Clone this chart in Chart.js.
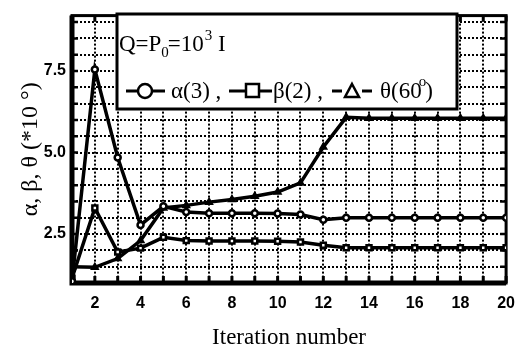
<!DOCTYPE html>
<html>
<head>
<meta charset="utf-8">
<script src="https://cdn.jsdelivr.net/npm/chart.js@4.4.0/dist/chart.umd.min.js"></script>
<style>
  html, body { margin: 0; padding: 0; background: #fff; }
</style>
</head>
<body>
<canvas id="iterChart" width="526" height="356"></canvas>
<script>
// values (units of 10 degrees / scaled)
var iterations = [1, 2, 3, 4, 5, 6, 7, 8, 9, 10, 11, 12, 13, 14, 15, 16, 17, 18, 19, 20];
var alpha = [1.05, 7.55, 4.85, 2.78, 3.35, 3.18, 3.14, 3.14, 3.14, 3.13, 3.1, 2.94, 3.0, 3.0, 3.0, 3.0, 3.0, 3.0, 3.0, 3.0];
var beta  = [1.15, 3.3, 1.95, 2.07, 2.4, 2.3, 2.29, 2.29, 2.29, 2.28, 2.26, 2.16, 2.08, 2.08, 2.08, 2.08, 2.08, 2.08, 2.08, 2.08];
var theta = [1.5, 1.48, 1.75, 2.3, 3.3, 3.38, 3.48, 3.56, 3.66, 3.79, 4.07, 5.17, 6.08, 6.05, 6.05, 6.05, 6.05, 6.05, 6.05, 6.05];
var xLabels = [2, 4, 6, 8, 10, 12, 14, 16, 18, 20];
var yLabels = [2.5, 5.0, 7.5];

function points(ys) {
    return iterations.map(function (x, i) { return {x: x, y: ys[i]}; });
}

var serif = '"Liberation Serif", "Times New Roman", serif';

/**
 * Frame, inner tick marks and the boxed legend of the original figure
 */
var paperPlugin = {
    id: 'paper',
    beforeDatasetsDraw: function (chart) {
        var ctx = chart.ctx, a = chart.chartArea;
        var xs = chart.scales.x, ys = chart.scales.y;
        ctx.save();
        ctx.strokeStyle = '#000';
        ctx.fillStyle = '#000';

        // inner ticks
        ctx.lineWidth = 3;
        xs.ticks.forEach(function (t) {
            var px = xs.getPixelForValue(t.value);
            ctx.beginPath();
            ctx.moveTo(px, a.bottom); ctx.lineTo(px, a.bottom - 7);
            ctx.moveTo(px, a.top); ctx.lineTo(px, a.top + 6);
            ctx.stroke();
        });
        ctx.lineWidth = 2.5;
        ys.ticks.forEach(function (t) {
            var py = ys.getPixelForValue(t.value);
            ctx.beginPath();
            ctx.moveTo(a.left, py); ctx.lineTo(a.left + 6, py);
            ctx.moveTo(a.right, py); ctx.lineTo(a.right - 6, py);
            ctx.stroke();
        });

        // frame
        ctx.lineWidth = 3;
        ctx.strokeRect(a.left, a.top, a.right - a.left, a.bottom - a.top);
        ctx.lineWidth = 5;
        ctx.beginPath();
        ctx.moveTo(a.left, a.top); ctx.lineTo(a.left, a.bottom); ctx.lineTo(a.right, a.bottom);
        ctx.stroke();

        // legend box
        ctx.fillStyle = '#fff';
        ctx.fillRect(117, 14, 340, 95);
        ctx.lineWidth = 3;
        ctx.strokeRect(117, 14, 340, 95);
        ctx.fillStyle = '#000';

        // line 1: Q=P0=10^3 I
        ctx.textBaseline = 'alphabetic';
        ctx.textAlign = 'left';
        var x = 119, y = 51;
        ctx.font = '23px ' + serif;
        ctx.fillText('Q=P', x, y); x += ctx.measureText('Q=P').width;
        ctx.font = '15px ' + serif;
        ctx.fillText('0', x, y + 6); x += ctx.measureText('0').width - 1;
        ctx.font = '23px ' + serif;
        ctx.fillText('=10', x, y); x += ctx.measureText('=10').width + 1;
        ctx.font = '15px ' + serif;
        ctx.fillText('3', x, y - 11); x += ctx.measureText('3').width;
        ctx.font = '23px ' + serif;
        ctx.fillText(' I', x, y);

        // line 2: series keys
        var my = 91, ty = 98;
        function seg(x0, x1) {
            ctx.lineWidth = 3;
            ctx.beginPath(); ctx.moveTo(x0, my); ctx.lineTo(x1, my); ctx.stroke();
        }
        seg(126, 165);
        ctx.beginPath(); ctx.arc(145, my, 7, 0, Math.PI * 2);
        ctx.fillStyle = '#fff'; ctx.fill(); ctx.lineWidth = 2.5; ctx.stroke();
        ctx.fillStyle = '#000';
        ctx.font = '23px ' + serif;
        ctx.fillText('\u03b1(3) ,', 171, ty);

        seg(229, 272);
        ctx.fillStyle = '#fff';
        ctx.fillRect(246, my - 7, 13, 13);
        ctx.lineWidth = 2.5; ctx.strokeRect(246, my - 7, 13, 13);
        ctx.fillStyle = '#000';
        ctx.fillText('\u03b2(2) ,', 273, ty);

        seg(332, 342); seg(362, 372);
        ctx.beginPath();
        ctx.moveTo(352, my - 7); ctx.lineTo(359, my + 6); ctx.lineTo(345, my + 6); ctx.closePath();
        ctx.lineWidth = 2.5; ctx.stroke();
        x = 380;
        ctx.fillText('\u03b8(60', x, ty); x += ctx.measureText('\u03b8(60').width - 3;
        ctx.font = '15px ' + serif;
        ctx.fillText('o', x, ty - 12); x += ctx.measureText('o').width - 1;
        ctx.font = '23px ' + serif;
        ctx.fillText(')', x, ty);
        ctx.restore();
    }
};

var lineData = {
    datasets: [
        {
            label: '\u03b1(3)',
            data: points(alpha),
            borderColor: '#000',
            borderWidth: 3.5,
            pointStyle: 'circle',
            pointRadius: 3,
            pointBorderWidth: 2.5,
            pointBackgroundColor: '#fff',
            pointBorderColor: '#000'
        },
        {
            label: '\u03b2(2)',
            data: points(beta),
            borderColor: '#000',
            borderWidth: 3.5,
            pointStyle: 'rect',
            pointRadius: 3.5,
            pointBorderWidth: 2.5,
            pointBackgroundColor: '#fff',
            pointBorderColor: '#000'
        },
        {
            label: '\u03b8(60\u00b0)',
            data: points(theta),
            borderColor: '#000',
            borderWidth: 3.5,
            pointStyle: 'triangle',
            pointRadius: 3.5,
            pointBorderWidth: 2,
            pointBackgroundColor: '#000',
            pointBorderColor: '#000'
        }
    ]
};

var lineOptions = {
    responsive: false,
    animation: false,
    layout: { padding: { left: 0, right: 18, top: 10, bottom: 0 } },
    plugins: {
        legend: { display: false },
        tooltip: { enabled: false }
    },
    elements: { line: { tension: 0 } },
    scales: {
        x: {
            type: 'linear',
            min: 1,
            max: 20,
            afterFit: function (scale) { scale.height = 73; },
            grid: { color: '#000', lineWidth: 2, drawTicks: false },
            border: { display: false, dash: [2, 2] },
            ticks: {
                stepSize: 1,
                autoSkip: false,
                maxRotation: 0,
                padding: 11,
                color: '#000',
                font: { family: '"Liberation Sans", Arial, sans-serif', size: 16, weight: 'bold' },
                callback: function (v) { return xLabels.indexOf(v) >= 0 ? String(v) : ''; }
            },
            title: {
                display: true,
                text: 'Iteration number',
                color: '#000',
                font: { family: serif, size: 23 },
                padding: { top: 0, bottom: 4 }
            }
        },
        y: {
            min: 1,
            max: 9.2,
            afterFit: function (scale) { scale.width = 72; },
            afterBuildTicks: function (scale) {
                var t = [];
                for (var v = 1; v <= 9.001; v += 0.5) t.push({value: Math.round(v * 10) / 10});
                scale.ticks = t;
            },
            grid: { color: '#000', lineWidth: 2, drawTicks: false },
            border: { display: false, dash: [2, 2] },
            ticks: {
                autoSkip: false,
                padding: 6,
                color: '#000',
                font: { family: '"Liberation Sans", Arial, sans-serif', size: 16, weight: 'bold' },
                callback: function (v) { return yLabels.indexOf(v) >= 0 ? v.toFixed(1) : ''; }
            },
            title: {
                display: true,
                text: '\u03b1, \u03b2, \u03b8 (*10 \u00b0)',
                color: '#000',
                font: { family: serif, size: 24 },
                padding: { top: 16, bottom: 0 }
            }
        }
    }
};

var ctx = document.getElementById('iterChart').getContext('2d');
new Chart(ctx, {type: 'line', data: lineData, options: lineOptions, plugins: [paperPlugin]});
</script>
</body>
</html>
